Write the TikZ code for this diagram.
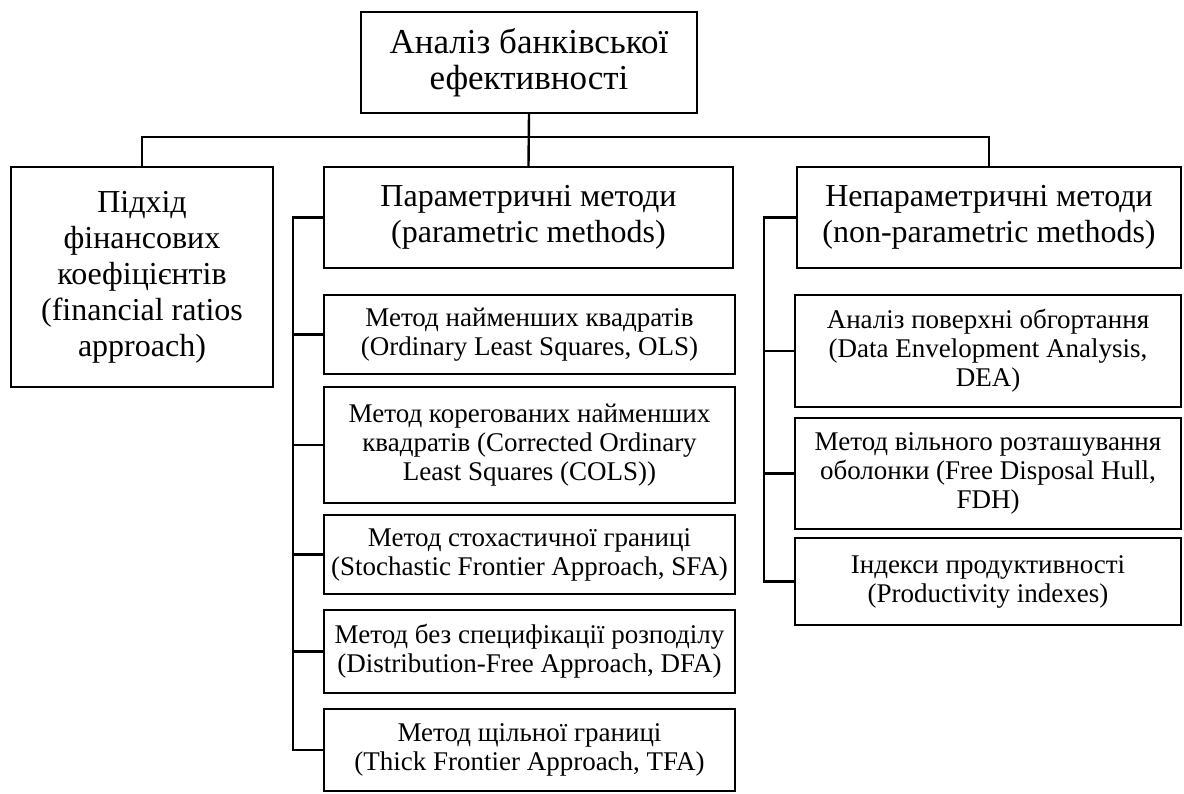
\documentclass[tikz,border=0pt]{standalone}
\usepackage{fontspec}
\setmainfont{Liberation Serif}
\usetikzlibrary{positioning}

\begin{document}
\begin{tikzpicture}[
  x=1pt, y=-1pt,
  box/.style={draw, line width=2.4pt, inner sep=0pt, align=center},
  big/.style={box, font=\fontsize{32}{36}\selectfont},
  small/.style={box, font=\fontsize{27}{29}\selectfont, minimum width=411pt},
  wide/.style={box, font=\fontsize{27}{29}\selectfont, minimum width=386pt},
  conn/.style={line width=2.4pt}
]
\useasboundingbox (0,0) rectangle (1184,793);
\node[big, font=\fontsize{35}{36}\selectfont, minimum width=336pt, minimum height=101pt] (root) at (529,62.5) {Аналіз банківської\\ефективності};
\node[big, minimum width=262pt, minimum height=220pt] (fin) at (142,277) {Підхід\\фінансових\\коефіцієнтів\\(financial ratios\\approach)};
\node[big, minimum width=409pt, minimum height=101pt] (par) at (528.5,217.5) {Параметричні методи\\(parametric methods)};
\node[big, minimum width=384pt, minimum height=101pt] (npar) at (989,217.5) {Непараметричні методи\\(non-parametric methods)};

\node[small, minimum height=79pt] (ols) at (529.5,334.5) {Метод найменших квадратів\\(Ordinary Least Squares, OLS)};
\node[small, minimum height=116pt] (cols) at (529.5,445) {Метод корегованих найменших\\квадратів (Corrected Ordinary\\Least Squares (COLS))};
\node[small, minimum height=79pt] (sfa) at (529.5,554.5) {Метод стохастичної границі\\(Stochastic Frontier Approach, SFA)};
\node[small, minimum height=83pt] (dfa) at (529.5,651.5) {Метод без специфікації розподілу\\(Distribution-Free Approach, DFA)};
\node[small, minimum height=82pt] (tfa) at (529.5,750) {Метод щільної границі\\(Thick Frontier Approach, TFA)};

\node[wide, minimum height=112pt] (dea) at (988,351) {Аналіз поверхні обгортання\\(Data Envelopment Analysis,\\DEA)};
\node[wide, minimum height=111pt] (fdh) at (988,473.5) {Метод вільного розташування\\оболонки (Free Disposal Hull,\\FDH)};
\node[wide, minimum height=87pt] (idx) at (988,581.5) {Індекси продуктивності\\(Productivity indexes)};

\coordinate (bus) at (0,137);
\coordinate (lspine) at (293,0);
\coordinate (rspine) at (764,0);

\draw[conn] (root.south) -- (par.north);
\draw[conn] (fin.north) -- (fin.north |- bus) -- (npar.north |- bus) -- (npar.north);
\draw[conn] (par.west) -- (par.west -| lspine) |- (tfa.west);
\foreach \n in {ols,cols,sfa,dfa}
  \draw[conn] (\n.west) -- (\n.west -| lspine);
\draw[conn] (npar.west) -- (npar.west -| rspine) |- (idx.west);
\foreach \n in {dea,fdh}
  \draw[conn] (\n.west) -- (\n.west -| rspine);
\end{tikzpicture}
\end{document}
